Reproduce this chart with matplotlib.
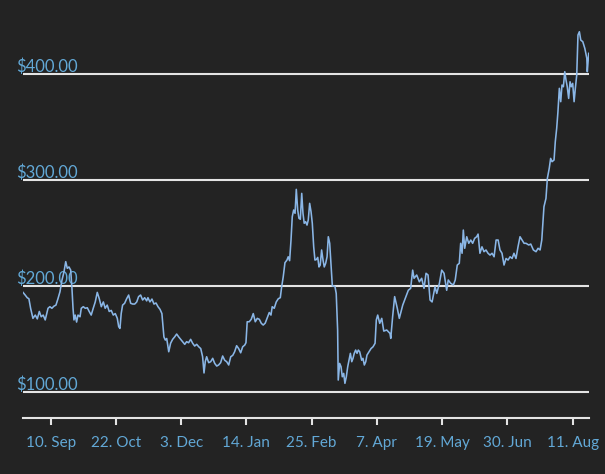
import datetime as dt
import matplotlib
matplotlib.use("Agg")
import matplotlib.pyplot as plt
import matplotlib.dates as mdates

# ---- data ----
start_date = dt.date(2019, 8, 23)
day = [0.2, 1.6, 2.9, 4.0, 5.1, 6.6, 8.1, 9.4, 10.7, 11.9, 13.2, 14.5, 16.3, 17.5, 18.8,
       20.1, 21.4, 22.7, 24.0, 25.3, 26.6, 27.7, 28.7, 29.8, 30.9, 31.7, 32.4, 33.0, 33.8,
       34.7, 35.6, 36.9, 37.7, 39.0, 40.3, 41.6, 42.8, 44.1, 45.4, 46.7, 48.0, 49.3, 50.6,
       51.9, 53.1, 54.4, 55.7, 57.0, 58.3, 59.6, 60.9, 61.8, 62.6, 63.4, 64.3, 65.6, 66.9,
       68.2, 69.5, 70.8, 72.1, 73.4, 74.6, 75.9, 77.2, 78.5, 79.8,
       80.6, 81.9, 83.2, 84.5, 85.8, 87.1, 88.4, 89.6, 90.9, 91.8, 92.7, 94.0, 95.2, 96.5,
       97.8, 99.1, 100.4, 101.7, 103.0, 104.3, 105.5, 106.8, 108.1, 109.4, 110.7, 112.0,
       113.3, 114.6, 115.8, 116.7, 117.5, 118.4, 119.7, 121.0, 122.3, 123.6, 124.9, 126.1,
       127.4, 128.7, 130.0, 131.3, 132.6, 133.9, 135.2, 136.4, 137.7, 139.0, 140.3, 141.6,
       142.9, 143.7, 144.5, 145.8, 147.1, 148.4, 149.7, 151.0, 152.3, 153.6, 154.8, 156.1,
       157.4, 158.7,
       159.8, 160.6, 161.9, 163.2, 164.5, 165.8, 166.7, 167.7, 168.8, 170.1, 170.9, 171.8,
       172.7, 173.5, 174.4, 175.3, 176.1, 177.0, 177.8, 178.7, 179.6, 180.4, 181.2, 182.1,
       183.0, 183.8, 184.7, 185.6, 186.4, 187.3, 188.1, 189.0, 189.9, 190.7, 191.5, 192.4,
       193.3, 194.1, 195.0, 195.9, 196.7, 197.6, 198.4, 199.3, 200.2, 201.0, 201.8, 202.7,
       203.1, 204.0, 204.9, 205.7, 206.6, 207.4, 208.3, 209.2, 210.0, 210.9, 211.8, 212.6,
       213.4, 214.3, 215.2, 216.0, 216.9, 218.2, 219.0, 219.9, 220.8, 221.6, 222.9, 224.2,
       225.5, 226.8, 227.6, 228.5, 229.8, 231.1, 232.4,
       234.3, 236.4, 236.9, 238.1, 239.4, 241.1, 242.4, 244.6, 246.7, 248.2, 249.7, 251.0,
       251.9, 253.6, 255.3, 256.8, 258.3, 259.6, 260.9, 262.2, 263.5, 265.4, 266.5, 268.2,
       269.7, 271.2, 272.9, 273.9, 275.5, 277.2, 278.4, 279.7, 281.0, 281.9, 282.8, 283.6,
       284.5, 285.8, 287.1, 288.4, 289.6, 290.9, 292.2, 293.1, 294.3, 295.6, 296.9, 298.2,
       299.5, 300.8, 302.1, 303.4, 304.7, 306.0, 307.2, 308.5, 309.8, 311.1, 312.4, 313.7,
       315.0, 316.2, 317.5, 318.8, 320.1, 321.4, 322.7, 324.0, 325.7, 327.0, 328.7, 330.4,
       331.7, 333.0, 334.1,
       334.7, 335.5, 336.8, 337.7, 338.9, 339.8, 340.7, 342.0, 342.8, 343.7, 344.5, 345.4,
       346.3, 347.1, 348.0, 348.9, 349.7, 350.5, 351.4, 352.3, 353.1, 354.0, 354.9, 355.7,
       356.6, 357.4, 358.3, 359.2, 360.5, 361.8, 363.1, 363.4, 364.3]
price = [194, 191.5, 189, 188, 179, 169.5, 172.6, 169, 176, 171, 172.6, 168, 179, 180.5, 179,
         181, 182, 188, 194.6, 205.7, 213.5, 223, 216.7, 218, 215, 198, 179, 168, 172.6,
         166, 172.6, 171, 179, 180.5, 179, 179.5, 176, 172.6, 179, 185, 194, 188, 180.5,
         185, 179, 182, 176, 177, 172.6, 174, 169.5, 161.6, 160, 174, 182, 183.7, 188,
         191.5, 183.7, 183, 183, 185, 190, 191.5, 186.8, 189, 186,
         189, 185, 187.7, 183, 184, 180.5, 178, 174, 152, 149, 150.5, 138, 146, 149.7,
         152, 154.7, 152, 149.7, 147.5, 145, 147.5, 146.5, 149.7, 146, 143.4, 145,
         142.7, 141, 133.3, 118, 128.6, 133.3, 127.7, 128.6, 131.8, 127, 124.5, 125.5,
         127.7, 134, 130, 128.6, 125.5, 133.3, 134.6, 138, 143.7, 141, 137, 142.7,
         144.3, 146.5, 166.3, 166.3, 168.6, 174, 166.3, 169.5, 168.6, 164.8, 163.2, 165,
         170, 175,
         172.6, 180.5, 179, 185, 188, 189, 199.4, 208.8, 222, 224.5, 227.6, 223.9,
         243.4, 265.4, 271.7, 268.6, 291.2, 271.7, 263.9, 263, 287.4, 268.6, 259.2, 260.7,
         257.5, 262.3, 278, 270, 259.2, 237, 224.5, 225, 227, 218, 219.8, 234,
         224.5, 218, 221.4, 227.6, 246.5, 240.3, 221.4, 200, 200, 199.4, 193, 158.5,
         111.3, 127, 123.9, 114.4, 117.6, 108.2, 114.4, 123.9, 130, 136.5, 128.6, 131.8,
         136.5, 139.6, 136.5, 139.6, 138, 130, 131.8, 125.5, 128.6, 134.9, 138, 141,
         142.7, 146, 168, 172.6, 164.8, 169.5, 157.5,
         158.5, 155.3, 150.6, 171, 190, 179, 169.5, 182, 190, 196, 197.8, 215,
         207.3, 210.4, 204, 207.3, 197.8, 212, 210.4, 186.8, 185, 199.4, 193, 202.5,
         215, 212, 196, 205.7, 202.5, 201, 205.7, 219.8, 221.4, 240.3, 230.9, 252.8,
         235.6, 246.5, 240.3, 243.4, 240.3, 245, 246.5, 249, 230.9, 237, 232.4, 234,
         230.9, 229.2, 230.9, 227.6, 243.4, 243.4, 234, 230.9, 219.8, 226, 224.5, 227.6,
         226, 230.9, 226, 237, 246.5, 243.4, 240.3, 240.3, 238.7, 239.6, 234, 232.4,
         235.6, 234, 243.4,
         257.5, 274.8, 282.7, 301.6, 311, 320.4, 317.3, 318.9, 336.2, 348.8, 364.4, 386.5,
         373.9, 389.6, 388, 402.2, 394.3, 388, 377, 392.7, 388, 391.2, 373.9, 386.5,
         399, 436.8, 439.9, 432, 430.5, 424.2, 414.8, 402.2, 419.5]

y_ticks = [100, 200, 300, 400]
y_tick_labels = ["$100.00", "$200.00", "$300.00", "$400.00"]
x_tick_dates = [dt.date(2019, 9, 10), dt.date(2019, 10, 22), dt.date(2019, 12, 3),
                dt.date(2020, 1, 14), dt.date(2020, 2, 25), dt.date(2020, 4, 7),
                dt.date(2020, 5, 19), dt.date(2020, 6, 30), dt.date(2020, 8, 11)]
x_tick_labels = ["10. Sep", "22. Oct", "3. Dec", "14. Jan", "25. Feb", "7. Apr",
                 "19. May", "30. Jun", "11. Aug"]

# ---- style ----
BG = "#232323"
GRID = "#e4e4e4"
LABEL = "#62a8d6"
LINE = "#8ab6e6"
W, H = 605, 474

plt.rcParams['font.family'] = ['Lato', 'DejaVu Sans']

fig = plt.figure(figsize=(W / 100, H / 100), dpi=100, facecolor=BG)
left_px, right_px, top_px, bottom_px = 23, 588.7, 10, 418
ax = fig.add_axes([left_px / W, 1 - bottom_px / H,
                   (right_px - left_px) / W, (bottom_px - top_px) / H])
ax.set_facecolor(BG)

base = mdates.date2num(start_date)
xs = [base + d for d in day]
ax.plot(xs, price, color=LINE, lw=1.15, zorder=3)

ax.set_xlim(xs[0], xs[-1])
ax.set_ylim(75.5, 460.4)

for v, lab in zip(y_ticks, y_tick_labels):
    ax.axhline(v, color=GRID, lw=1.5, zorder=1)
    ax.annotate(lab, xy=(0, v), xycoords=('axes fraction', 'data'),
                xytext=(-7, 2.5), textcoords='offset pixels',
                ha='left', va='baseline', color=LABEL, fontsize=12, zorder=2)

ax.set_yticks([])
ax.set_xticks([mdates.date2num(d) for d in x_tick_dates])
ax.set_xticklabels(x_tick_labels)
ax.tick_params(axis='x', colors=GRID, length=5, width=1.5, pad=8,
               labelcolor=LABEL, labelsize=11)
for s in ['top', 'right', 'left']:
    ax.spines[s].set_visible(False)
ax.spines['bottom'].set_color(GRID)
ax.spines['bottom'].set_linewidth(1.5)

fig.savefig("out.png", dpi=100, facecolor=BG)
